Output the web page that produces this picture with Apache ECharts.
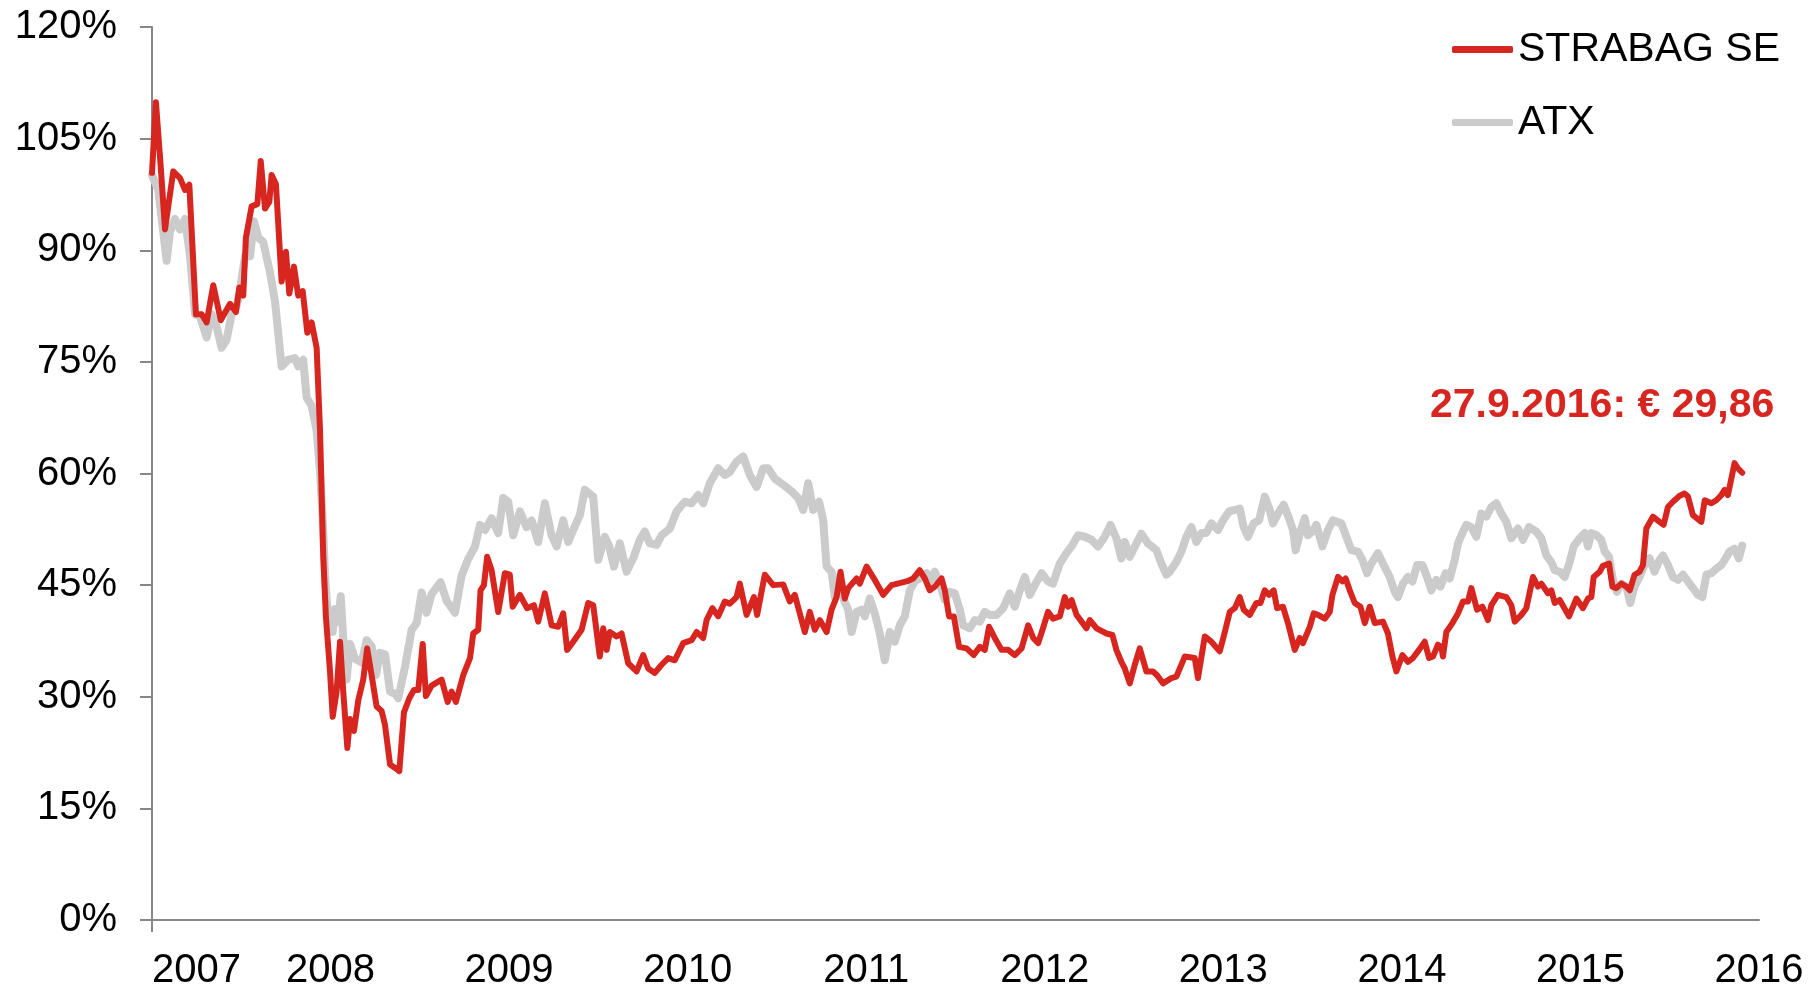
<!DOCTYPE html>
<html>
<head>
<meta charset="utf-8">
<script src="https://cdn.jsdelivr.net/npm/echarts@6/dist/echarts.min.js"></script>
<style>
  html, body { margin: 0; padding: 0; background: #ffffff; }
  #chart { width: 1816px; height: 989px; }
</style>
</head>
<body>
<div id="chart"></div>
<script>
// [decimal year, % of start value]
const strabag = [
  [2007.000, 100.4], [2007.022, 109.9], [2007.049, 101.2], [2007.073, 92.8], [2007.119, 100.6],
  [2007.157, 99.7], [2007.185, 98.1], [2007.209, 98.8], [2007.246, 81.4], [2007.278, 81.4],
  [2007.306, 80.3], [2007.343, 85.3], [2007.385, 80.6], [2007.437, 82.8], [2007.470, 81.7],
  [2007.489, 85.0], [2007.511, 83.9], [2007.526, 91.7], [2007.558, 95.9], [2007.590, 96.2],
  [2007.609, 102.0], [2007.633, 95.6], [2007.657, 96.5], [2007.670, 100.1], [2007.694, 98.9],
  [2007.726, 85.8], [2007.750, 89.8], [2007.769, 84.2], [2007.795, 87.8], [2007.819, 83.9],
  [2007.844, 84.5], [2007.870, 78.9], [2007.894, 80.3], [2007.922, 76.9], [2007.941, 65.8],
  [2007.959, 49.0], [2007.974, 40.7], [2007.997, 33.4], [2008.012, 27.3], [2008.034, 30.7],
  [2008.053, 37.4], [2008.071, 30.7], [2008.094, 23.1], [2008.109, 27.0], [2008.131, 25.4],
  [2008.155, 29.5], [2008.183, 32.3], [2008.205, 36.5], [2008.230, 32.9], [2008.258, 28.7],
  [2008.286, 28.1], [2008.305, 26.2], [2008.333, 20.9], [2008.370, 20.3], [2008.385, 20.0],
  [2008.411, 27.9], [2008.441, 29.8], [2008.467, 30.9], [2008.491, 30.9], [2008.516, 37.1],
  [2008.534, 30.1], [2008.566, 31.5], [2008.622, 32.3], [2008.656, 29.3], [2008.678, 30.7],
  [2008.702, 29.3], [2008.743, 32.9], [2008.781, 35.2], [2008.799, 38.5], [2008.827, 39.0],
  [2008.840, 44.3], [2008.859, 45.0], [2008.877, 48.8], [2008.902, 47.0], [2008.939, 41.4],
  [2008.976, 46.6], [2009.004, 46.4], [2009.020, 42.1], [2009.060, 43.7], [2009.101, 41.9],
  [2009.139, 42.3], [2009.163, 40.1], [2009.200, 43.9], [2009.238, 39.6], [2009.275, 39.4],
  [2009.303, 41.2], [2009.325, 36.3], [2009.359, 37.4], [2009.406, 39.0], [2009.443, 42.6],
  [2009.471, 42.3], [2009.508, 35.4], [2009.527, 39.2], [2009.546, 36.3], [2009.564, 38.7],
  [2009.602, 38.1], [2009.630, 38.5], [2009.667, 34.5], [2009.714, 33.4], [2009.751, 35.6],
  [2009.779, 33.8], [2009.816, 33.2], [2009.854, 34.3], [2009.891, 35.2], [2009.928, 34.9],
  [2009.975, 37.2], [2010.022, 37.6], [2010.050, 38.7], [2010.087, 37.9], [2010.106, 40.3],
  [2010.139, 41.9], [2010.171, 40.8], [2010.208, 42.8], [2010.236, 42.5], [2010.274, 43.4],
  [2010.292, 45.2], [2010.330, 41.0], [2010.371, 43.4], [2010.389, 41.0], [2010.432, 46.4],
  [2010.479, 45.0], [2010.535, 45.1], [2010.572, 42.8], [2010.600, 43.7], [2010.656, 38.7],
  [2010.684, 41.4], [2010.712, 39.0], [2010.740, 40.3], [2010.778, 38.7], [2010.806, 41.7],
  [2010.834, 43.4], [2010.856, 46.8], [2010.880, 43.2], [2010.899, 44.6], [2010.946, 45.9],
  [2010.964, 45.2], [2011.002, 47.5], [2011.048, 45.7], [2011.095, 43.7], [2011.142, 45.0],
  [2011.226, 45.5], [2011.263, 45.9], [2011.300, 47.0], [2011.328, 45.9], [2011.356, 44.3],
  [2011.384, 44.8], [2011.422, 45.9], [2011.440, 44.3], [2011.464, 40.8], [2011.491, 40.8],
  [2011.520, 36.7], [2011.562, 36.5], [2011.602, 35.6], [2011.636, 36.7], [2011.664, 36.3],
  [2011.688, 39.4], [2011.720, 37.9], [2011.758, 36.3], [2011.795, 36.3], [2011.832, 35.6],
  [2011.870, 36.5], [2011.907, 39.6], [2011.935, 37.9], [2011.963, 37.2], [2011.990, 39.2],
  [2012.018, 41.4], [2012.046, 40.5], [2012.084, 40.8], [2012.112, 43.4], [2012.131, 42.1],
  [2012.150, 43.0], [2012.178, 41.0], [2012.206, 40.1], [2012.233, 39.2], [2012.252, 40.3],
  [2012.290, 39.2], [2012.346, 38.5], [2012.379, 38.3], [2012.401, 36.3], [2012.429, 34.7],
  [2012.448, 33.8], [2012.476, 31.8], [2012.504, 34.3], [2012.532, 36.5], [2012.569, 33.4],
  [2012.606, 33.4], [2012.629, 32.9], [2012.662, 31.8], [2012.709, 32.5], [2012.737, 32.7],
  [2012.784, 35.4], [2012.840, 35.2], [2012.858, 32.5], [2012.896, 38.1], [2012.933, 37.4],
  [2012.980, 36.1], [2013.002, 38.1], [2013.036, 41.4], [2013.064, 41.9], [2013.092, 43.4],
  [2013.114, 41.7], [2013.148, 41.0], [2013.185, 42.6], [2013.208, 42.6], [2013.232, 44.3],
  [2013.256, 43.7], [2013.282, 44.3], [2013.301, 41.9], [2013.334, 42.1], [2013.362, 39.9],
  [2013.400, 36.3], [2013.428, 37.9], [2013.446, 37.2], [2013.484, 39.4], [2013.506, 41.2],
  [2013.530, 41.0], [2013.568, 40.5], [2013.596, 41.4], [2013.611, 43.7], [2013.642, 46.1],
  [2013.667, 45.5], [2013.685, 45.9], [2013.708, 44.3], [2013.736, 42.6], [2013.768, 42.1],
  [2013.792, 39.9], [2013.820, 42.1], [2013.848, 39.9], [2013.894, 40.1], [2013.922, 38.5],
  [2013.947, 35.4], [2013.969, 33.4], [2014.003, 35.6], [2014.034, 34.7], [2014.062, 35.2],
  [2014.096, 36.3], [2014.128, 37.4], [2014.152, 35.2], [2014.174, 35.4], [2014.202, 37.0],
  [2014.221, 36.7], [2014.230, 35.4], [2014.249, 38.7], [2014.283, 39.9], [2014.314, 41.2],
  [2014.342, 42.8], [2014.370, 42.8], [2014.389, 44.6], [2014.421, 41.7], [2014.451, 42.1],
  [2014.482, 40.3], [2014.501, 42.3], [2014.538, 43.7], [2014.585, 43.4], [2014.613, 42.3],
  [2014.632, 40.1], [2014.669, 41.0], [2014.697, 41.9], [2014.734, 46.1], [2014.762, 44.8],
  [2014.781, 45.2], [2014.818, 43.9], [2014.837, 44.3], [2014.856, 42.6], [2014.884, 43.0],
  [2014.936, 40.8], [2014.977, 43.2], [2015.014, 41.9], [2015.042, 43.2], [2015.061, 43.4],
  [2015.074, 46.1], [2015.108, 46.8], [2015.126, 47.6], [2015.160, 47.9], [2015.179, 44.8],
  [2015.201, 44.6], [2015.229, 45.2], [2015.257, 44.8], [2015.276, 44.3], [2015.303, 46.4],
  [2015.331, 46.8], [2015.350, 47.7], [2015.369, 52.6], [2015.406, 54.2], [2015.443, 53.5],
  [2015.466, 53.1], [2015.490, 55.5], [2015.518, 56.2], [2015.556, 57.0], [2015.583, 57.3],
  [2015.602, 56.9], [2015.630, 54.4], [2015.677, 53.5], [2015.696, 56.4], [2015.733, 56.0],
  [2015.761, 56.4], [2015.789, 57.1], [2015.807, 57.8], [2015.826, 57.1], [2015.863, 61.4],
  [2015.882, 60.7], [2015.906, 60.1]
];

const atx = [
  [2007.000, 100.1], [2007.035, 98.1], [2007.082, 88.6], [2007.101, 92.5], [2007.129, 94.2],
  [2007.157, 92.8], [2007.185, 94.2], [2007.213, 89.2], [2007.241, 81.4], [2007.269, 81.1],
  [2007.306, 78.3], [2007.334, 81.4], [2007.362, 79.7], [2007.390, 76.9], [2007.418, 78.0],
  [2007.446, 81.4], [2007.474, 82.5], [2007.493, 84.7], [2007.521, 89.2], [2007.549, 89.2],
  [2007.571, 93.9], [2007.595, 91.7], [2007.623, 91.1], [2007.661, 87.0], [2007.689, 83.1],
  [2007.726, 74.4], [2007.763, 75.3], [2007.801, 75.5], [2007.819, 74.4], [2007.847, 75.3],
  [2007.866, 70.2], [2007.894, 69.1], [2007.922, 65.8], [2007.941, 60.2], [2007.959, 52.4],
  [2007.969, 46.3], [2007.987, 40.1], [2008.012, 38.7], [2008.025, 41.8], [2008.043, 40.1],
  [2008.057, 43.5], [2008.071, 37.9], [2008.090, 32.3], [2008.109, 37.1], [2008.137, 35.1],
  [2008.174, 34.6], [2008.202, 37.6], [2008.230, 36.8], [2008.254, 32.9], [2008.277, 35.9],
  [2008.305, 35.7], [2008.333, 30.7], [2008.361, 30.4], [2008.379, 29.8], [2008.417, 34.0],
  [2008.454, 39.0], [2008.482, 39.9], [2008.510, 44.0], [2008.538, 41.3], [2008.566, 43.8],
  [2008.616, 45.4], [2008.650, 42.9], [2008.697, 41.3], [2008.734, 46.3], [2008.771, 48.5],
  [2008.809, 50.2], [2008.837, 53.1], [2008.865, 52.4], [2008.902, 54.0], [2008.939, 52.0],
  [2008.967, 56.7], [2008.995, 56.2], [2009.023, 51.7], [2009.060, 54.9], [2009.098, 52.8],
  [2009.126, 53.7], [2009.163, 50.8], [2009.200, 56.0], [2009.238, 51.7], [2009.266, 50.2],
  [2009.303, 53.7], [2009.331, 50.8], [2009.359, 52.4], [2009.396, 54.4], [2009.424, 57.8],
  [2009.471, 56.9], [2009.499, 48.4], [2009.536, 51.5], [2009.561, 50.2], [2009.587, 47.5],
  [2009.620, 50.6], [2009.658, 46.8], [2009.695, 48.6], [2009.732, 51.1], [2009.760, 52.2],
  [2009.788, 50.6], [2009.826, 50.4], [2009.854, 51.7], [2009.900, 52.6], [2009.938, 54.9],
  [2009.984, 56.2], [2010.022, 56.0], [2010.059, 57.1], [2010.087, 56.0], [2010.124, 58.7],
  [2010.171, 60.7], [2010.208, 59.8], [2010.236, 60.2], [2010.274, 61.6], [2010.311, 62.3],
  [2010.348, 59.8], [2010.386, 58.2], [2010.423, 60.7], [2010.451, 60.7], [2010.488, 59.3],
  [2010.535, 58.5], [2010.582, 57.6], [2010.619, 56.7], [2010.647, 55.1], [2010.675, 58.7],
  [2010.703, 55.1], [2010.736, 56.2], [2010.759, 53.7], [2010.778, 47.5], [2010.806, 46.8],
  [2010.824, 43.4], [2010.852, 46.1], [2010.875, 43.0], [2010.899, 41.7], [2010.918, 38.7],
  [2010.946, 41.4], [2010.974, 41.7], [2010.992, 40.8], [2011.020, 43.2], [2011.048, 41.2],
  [2011.076, 38.5], [2011.104, 34.9], [2011.132, 38.7], [2011.160, 37.4], [2011.188, 39.6],
  [2011.216, 40.8], [2011.244, 44.3], [2011.272, 45.5], [2011.300, 45.9], [2011.338, 46.6],
  [2011.356, 45.5], [2011.384, 46.8], [2011.412, 45.2], [2011.440, 43.0], [2011.468, 44.1],
  [2011.496, 43.9], [2011.524, 41.7], [2011.543, 39.6], [2011.580, 39.2], [2011.608, 40.3],
  [2011.636, 40.1], [2011.664, 41.4], [2011.692, 41.0], [2011.730, 41.0], [2011.767, 41.9],
  [2011.804, 43.9], [2011.832, 42.1], [2011.860, 44.3], [2011.888, 46.1], [2011.916, 43.7],
  [2011.944, 45.0], [2011.982, 46.6], [2012.018, 45.5], [2012.046, 45.2], [2012.084, 47.9],
  [2012.121, 49.3], [2012.150, 50.2], [2012.186, 51.7], [2012.224, 51.5], [2012.261, 51.1],
  [2012.298, 50.2], [2012.336, 51.5], [2012.368, 53.1], [2012.401, 51.3], [2012.429, 48.6],
  [2012.448, 50.8], [2012.476, 48.8], [2012.513, 50.6], [2012.541, 51.9], [2012.578, 50.6],
  [2012.625, 49.7], [2012.653, 47.9], [2012.681, 46.4], [2012.700, 46.8], [2012.737, 48.1],
  [2012.765, 49.5], [2012.793, 51.5], [2012.821, 52.8], [2012.849, 50.8], [2012.877, 52.0],
  [2012.905, 52.0], [2012.933, 53.3], [2012.970, 52.4], [2012.998, 53.7], [2013.032, 54.9],
  [2013.064, 55.1], [2013.092, 55.3], [2013.114, 52.8], [2013.138, 51.5], [2013.170, 53.3],
  [2013.200, 53.7], [2013.232, 56.9], [2013.260, 55.1], [2013.278, 53.3], [2013.306, 54.6],
  [2013.338, 55.8], [2013.368, 54.0], [2013.390, 52.4], [2013.405, 49.7], [2013.432, 52.2],
  [2013.456, 54.0], [2013.474, 51.7], [2013.499, 52.2], [2013.521, 53.1], [2013.555, 50.2],
  [2013.586, 52.4], [2013.614, 53.7], [2013.661, 53.3], [2013.689, 51.5], [2013.717, 49.7],
  [2013.754, 49.5], [2013.779, 48.4], [2013.805, 46.6], [2013.829, 47.9], [2013.866, 49.3],
  [2013.894, 47.9], [2013.932, 46.1], [2013.960, 44.1], [2013.978, 43.4], [2014.006, 45.2],
  [2014.034, 46.1], [2014.059, 45.5], [2014.085, 47.7], [2014.115, 47.7], [2014.141, 46.1],
  [2014.165, 44.3], [2014.193, 45.7], [2014.216, 44.8], [2014.245, 46.6], [2014.268, 45.9],
  [2014.296, 48.4], [2014.314, 50.6], [2014.342, 52.2], [2014.361, 53.1], [2014.389, 52.8],
  [2014.417, 51.5], [2014.445, 54.6], [2014.473, 54.2], [2014.501, 55.5], [2014.529, 56.0],
  [2014.557, 54.6], [2014.585, 53.5], [2014.613, 51.3], [2014.650, 52.6], [2014.678, 51.1],
  [2014.712, 52.8], [2014.753, 52.2], [2014.781, 51.3], [2014.809, 49.0], [2014.837, 48.1],
  [2014.856, 47.0], [2014.884, 46.8], [2014.912, 46.1], [2014.940, 48.1], [2014.962, 50.2],
  [2014.996, 51.3], [2015.024, 52.0], [2015.042, 50.2], [2015.061, 52.0], [2015.089, 51.7],
  [2015.117, 51.1], [2015.136, 49.5], [2015.160, 48.8], [2015.182, 45.7], [2015.204, 44.1],
  [2015.229, 45.2], [2015.257, 44.8], [2015.279, 42.6], [2015.303, 44.8], [2015.331, 46.1],
  [2015.359, 47.7], [2015.387, 48.6], [2015.415, 46.8], [2015.443, 48.4], [2015.462, 49.0],
  [2015.490, 47.7], [2015.518, 46.1], [2015.546, 45.7], [2015.574, 46.4], [2015.602, 45.5],
  [2015.630, 44.6], [2015.658, 43.7], [2015.683, 43.4], [2015.705, 46.4], [2015.733, 46.6],
  [2015.761, 47.2], [2015.789, 47.7], [2015.813, 48.6], [2015.835, 49.5], [2015.863, 49.9],
  [2015.887, 48.6], [2015.906, 50.3]
];

const seriesNames = ['STRABAG SE', 'ATX'];
const lastPriceLabel = '27.9.2016: € 29,86';

const red = '#d7261f';
const grey = '#cbcbcb';
const axisGrey = '#878787';
const font = "'Liberation Sans', Arial, sans-serif";

const chart = echarts.init(document.getElementById('chart'));

chart.setOption({
  animation: false,
  backgroundColor: '#ffffff',
  title: {
    text: lastPriceLabel,
    left: 1430,
    top: 385,
    padding: 0,
    textStyle: { color: red, fontSize: 41, fontWeight: 'bold', fontFamily: font }
  },
  legend: {
    orient: 'vertical',
    left: 1452,
    top: 29,
    icon: 'roundRect',
    itemWidth: 61,
    itemHeight: 7,
    itemGap: 32,
    padding: 0,
    data: seriesNames,
    textStyle: { color: '#000', fontSize: 41, fontFamily: font }
  },
  grid: {
    left: 152,
    right: 57,
    top: 27,
    bottom: 69,
    outerBoundsMode: 'none'
  },
  xAxis: {
    type: 'value',
    min: 2007,
    max: 2016,
    interval: 1,
    axisLine: { lineStyle: { color: axisGrey, width: 2 } },
    axisTick: { show: true, customValues: [2007], length: 12, lineStyle: { color: axisGrey, width: 2 } },
    splitLine: { show: false },
    axisLabel: {
      color: '#000',
      fontSize: 40,
      fontFamily: font,
      margin: 31,
      alignMinLabel: 'left',
      formatter: (v) => String(v)
    }
  },
  yAxis: {
    type: 'value',
    min: 0,
    max: 120,
    interval: 15,
    axisLine: { show: true, lineStyle: { color: axisGrey, width: 2 } },
    axisTick: { show: true, length: 12, lineStyle: { color: axisGrey, width: 2 } },
    splitLine: { show: false },
    axisLabel: {
      color: '#000',
      fontSize: 40,
      fontFamily: font,
      margin: 35,
      formatter: '{value}%'
    }
  },
  series: [
    {
      name: seriesNames[0],
      type: 'line',
      data: strabag,
      symbol: 'none',
      z: 3,
      lineStyle: { color: red, width: 6, cap: 'round', join: 'round' },
      itemStyle: { color: red }
    },
    {
      name: seriesNames[1],
      type: 'line',
      data: atx,
      symbol: 'none',
      z: 2,
      lineStyle: { color: grey, width: 8, cap: 'round', join: 'round' },
      itemStyle: { color: grey }
    }
  ]
});

window.addEventListener('resize', () => chart.resize());
</script>
</body>
</html>
